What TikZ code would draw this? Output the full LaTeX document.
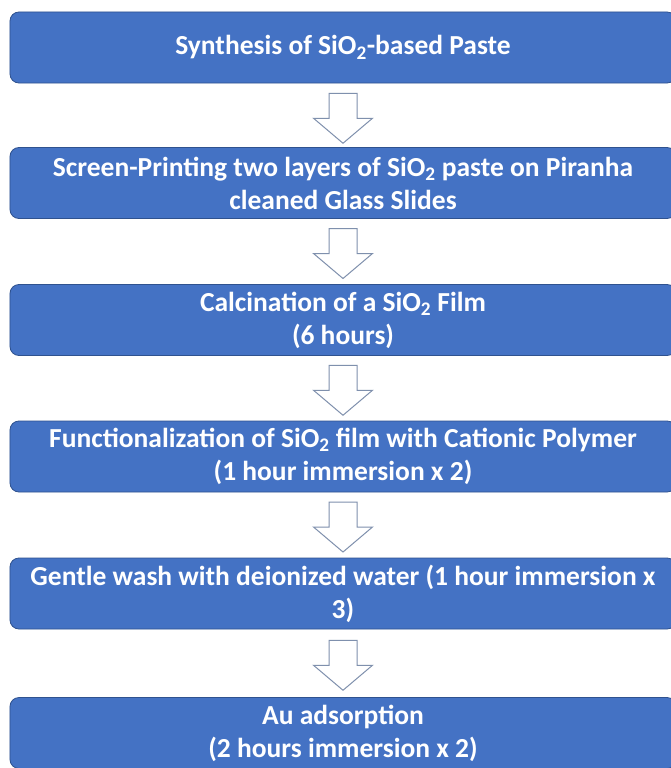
\documentclass[tikz,border=0pt]{standalone}
\usepackage{fontspec}
\setmainfont{Carlito}
\usetikzlibrary{calc}
\definecolor{boxfill}{HTML}{4472C4}
\definecolor{boxline}{HTML}{2F528F}
\definecolor{arrline}{HTML}{7F90AD}
\tikzset{
  stepbox/.style={draw=boxline, line width=0.8bp, fill=boxfill, rounded corners=9bp,
    minimum width=666bp, minimum height=71bp, inner sep=0pt, align=center,
    text=white, font=\fontsize{27.5bp}{33bp}\selectfont\bfseries},
  pics/downarrow/.style={code={
    \draw[draw=arrline, fill=white, line width=1bp, line join=miter]
      (-14,-25) -- (14,-25) -- (14,0) -- (29.5,0) -- (0,25) -- (-29.5,0) -- (-14,0) -- cycle;
  }}
}
\begin{document}
\begin{tikzpicture}[x=1bp,y=-1bp]
\useasboundingbox (0,0) rectangle (671,768);
\clip (0,0) rectangle (671,768);
\fill[white] (0,0) rectangle (671,768);
\node[stepbox] (b1) at (343,47.5) {Synthesis of SiO\textsubscript{2}-based Paste};
\node[stepbox] (b2) at (343,183) {Screen-Printing two layers of SiO\textsubscript{2} paste on Piranha\\cleaned Glass Slides};
\node[stepbox] (b3) at (343,320) {Calcination of a SiO\textsubscript{2} Film\\(6 hours)};
\node[stepbox] (b4) at (343,456.5) {Functionalization of SiO\textsubscript{2} film with Cationic Polymer\\(1 hour immersion x 2)};
\node[stepbox] (b5) at (343,593.5) {Gentle wash with deionized water (1 hour immersion x\\3)};
\node[stepbox] (b6) at (343,733) {Au adsorption\\(2 hours immersion x 2)};
\coordinate (a1) at ($(b1.south)!0.5!(b2.north)+(0,3)$);
\coordinate (a2) at ($(b2.south)!0.5!(b3.north)+(0,2)$);
\coordinate (a3) at ($(b3.south)!0.5!(b4.north)+(0,2)$);
\coordinate (a4) at ($(b4.south)!0.5!(b5.north)+(0,2)$);
\coordinate (a5) at ($(b5.south)!0.5!(b6.north)+(0,2)$);
\foreach \a in {a1,a2,a3,a4,a5} \pic at (\a) {downarrow};
\end{tikzpicture}
\end{document}
